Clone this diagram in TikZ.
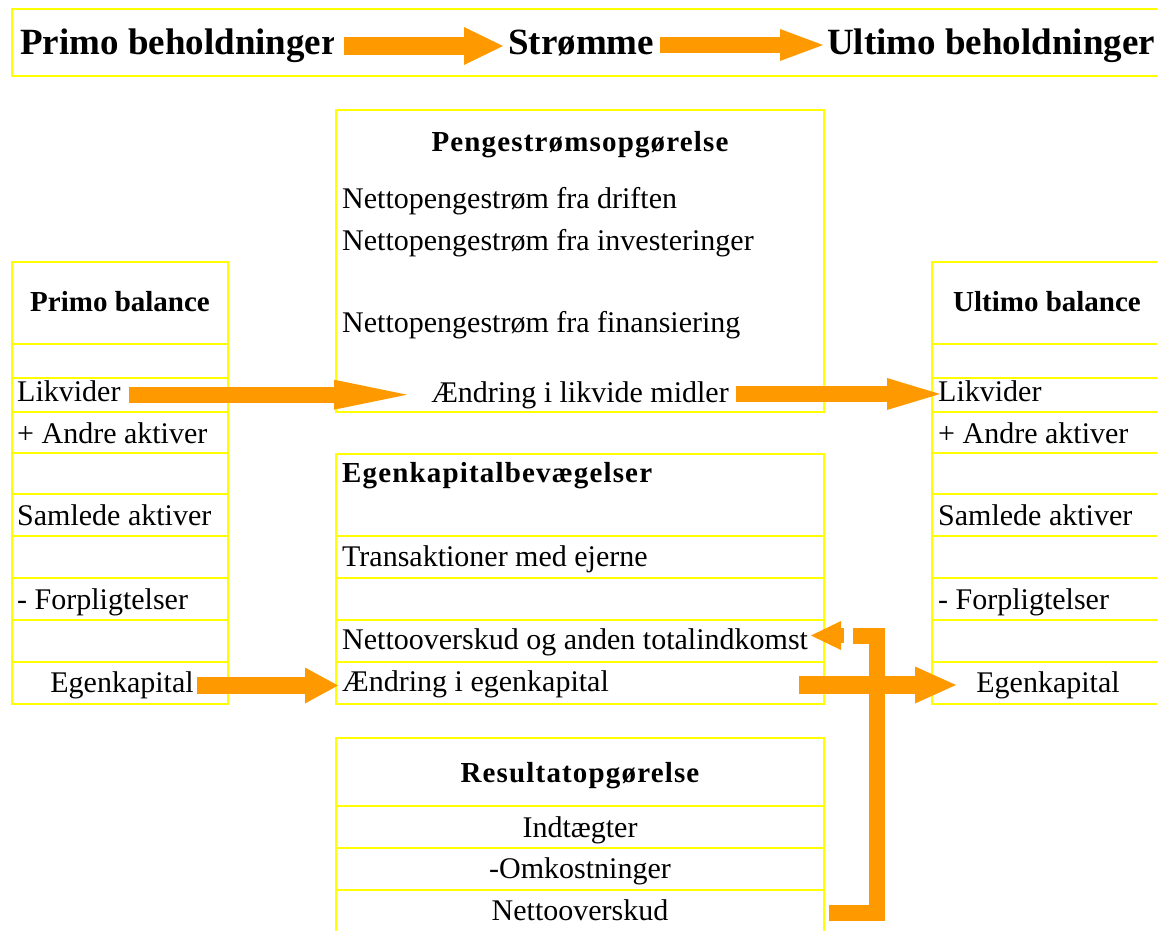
\documentclass[tikz,border=0pt]{standalone}
\usepackage{fontspec}
\setmainfont{Liberation Serif}
\usetikzlibrary{arrows.meta}
\definecolor{flowc}{RGB}{255,153,0}
\definecolor{gridc}{RGB}{255,255,0}
\tikzset{
    tab/.style={draw=gridc, line width=2pt},
    txt/.style={inner sep=0pt, anchor=base west, font=\fontsize{30}{35}\selectfont},
    ctxt/.style={txt, anchor=base},
    ttl/.style={ctxt, font=\fontsize{29}{34}\selectfont\bfseries},
    wide/.style={font=\fontsize{29}{34}\selectfont\bfseries\addfontfeature{LetterSpace=4}},
    big/.style={txt, font=\fontsize{37}{44}\selectfont\bfseries},
    flow/.style={draw=flowc, line width=16pt},
    head/.style 2 args={-{Triangle[length=#1pt, width=#2pt, line width=0pt]}}
}

\begin{document}
\begin{tikzpicture}[x=1pt, y=-1pt]
    \useasboundingbox (0,0) rectangle (1157,931);
    \draw[tab] (12,9) rectangle (1175,76);
    \draw[tab] (12,262) rectangle (228,704);
    \draw[tab] (932,262) rectangle (1175,704);
    \foreach \y in {344,378,412,453,494,536,578,620,662} {
        \draw[tab] (12,\y) -- (228,\y);
        \draw[tab] (932,\y) -- (1175,\y);
    }
    \draw[tab] (336,110) rectangle (824,412);
    \draw[tab] (336,454) rectangle (824,704);
    \foreach \y in {536,578,620,662}
        \draw[tab] (336,\y) -- (824,\y);
    \draw[tab] (336,945) -- (336,738) -- (824,738) -- (824,945);
    \foreach \y in {806,848,890}
        \draw[tab] (336,\y) -- (824,\y);

    \begin{scope}
        \clip (0,0) rectangle (333,80);
        \node[big] (pb) at (20,55) {Primo beholdninger};
    \end{scope}
    \node[big] (st) at (508,55) {Strømme};
    \node[big] (ub) at (827,55) {Ultimo beholdninger};

    \node[ttl] (pbal) at (120,311) {Primo balance};
    \node[txt] (lk1) at (17,401) {Likvider};
    \node[txt] (aa1) at (17,443) {+ Andre aktiver};
    \node[txt] (sa1) at (17,525) {Samlede aktiver};
    \node[txt] (fo1) at (17,609) {- Forpligtelser};
    \node[ctxt] (ek1) at (122,692) {Egenkapital};

    \node[ttl] (ubal) at (1047,311) {Ultimo balance};
    \node[txt] (lk2) at (938,401) {Likvider};
    \node[txt] (aa2) at (938,443) {+ Andre aktiver};
    \node[txt] (sa2) at (938,525) {Samlede aktiver};
    \node[txt] (fo2) at (938,609) {- Forpligtelser};
    \node[ctxt] (ek2) at (1048,692) {Egenkapital};

    \node[ttl, wide] (pgo) at (580,152) {Pengestrømsopgørelse};
    \node[txt] (nd) at (342,208) {Nettopengestrøm fra driften};
    \node[txt] (ni) at (342,250) {Nettopengestrøm fra investeringer};
    \node[txt] (nf) at (342,332) {Nettopengestrøm fra finansiering};
    \node[ctxt] (al) at (580,402) {Ændring i likvide midler};

    \node[txt, wide] (ekb) at (342,482) {Egenkapitalbevægelser};
    \node[txt] (tr) at (342,566) {Transaktioner med ejerne};
    \node[txt] (no) at (342,649) {Nettooverskud og anden totalindkomst};
    \node[txt] (ae) at (342,691) {Ændring i egenkapital};

    \node[ttl, wide] (ro) at (580,782) {Resultatopgørelse};
    \node[ctxt] (ind) at (580,837) {Indtægter};
    \node[ctxt] (omk) at (580,878) {-Omkostninger};
    \node[ctxt] (nov) at (580,920) {Nettooverskud};

    \coordinate (a1) at (344,46);
    \coordinate (a2) at (503,46);
    \coordinate (b1) at (660,45);
    \coordinate (b2) at (823,45);
    \coordinate (c1) at (129,394.7);
    \coordinate (c2) at (407,394.7);
    \coordinate (d1) at (736,394);
    \coordinate (d2) at (940,394);
    \coordinate (e1) at (197,685.5);
    \coordinate (e2) at (338,685.5);
    \coordinate (f1) at (799,685);
    \coordinate (f2) at (956,685);
    \coordinate (g1) at (829,913);
    \coordinate (g2) at (877,635.5);
    \coordinate (g3) at (853,635.5);
    \coordinate (h1) at (844,635.5);
    \coordinate (h2) at (811,635.5);

    \draw[flow, line width=18.6pt, head={39}{38}] (a1) -- (a2);
    \draw[flow, head={43}{32}] (b1) -- (b2);
    \draw[flow, head={73}{30}] (c1) -- (c2);
    \draw[flow, head={53}{32}] (d1) -- (d2);
    \draw[flow, line width=17.6pt, head={33}{36}] (e1) -- (e2);
    \draw[flow, line width=18.7pt, head={41}{37}] (f1) -- (f2);
    \draw[flow, line join=miter] (g1) -| (g2) -- (g3);
    \draw[flow, line width=15pt, head={30}{29}] (h1) -- (h2);
\end{tikzpicture}
\end{document}
